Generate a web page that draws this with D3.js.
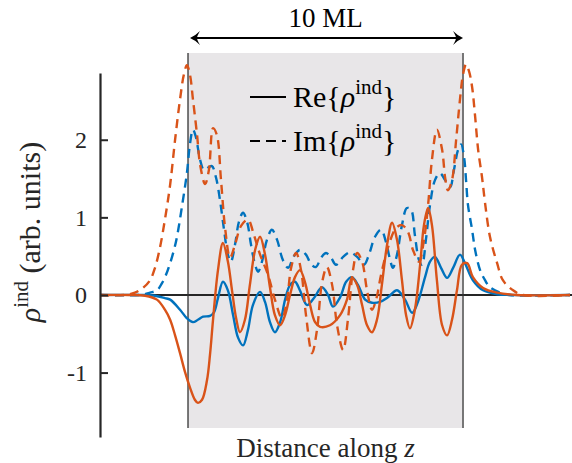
<!DOCTYPE html>
<html>
<head>
<meta charset="utf-8">
<script src="https://cdnjs.cloudflare.com/ajax/libs/d3/7.8.5/d3.min.js"></script>
<style>
  body { margin: 0; background: #fff; }
  svg { display: block; }
  svg text { font-family: 'Liberation Serif', 'Times New Roman', serif; }
</style>
</head>
<body>
<div class="canvas"></div>
<script>
// Induced density along z, pairs of [z in ML, value in arb. units]
const reBlue = [[-3.2,0],[-1.75,0],[-1.2,-0.01],[-0.84,-0.04],[-0.65,-0.06],[-0.29,-0.19],[-0.04,-0.3],[0.18,-0.35],[0.36,-0.32],[0.55,-0.28],[0.8,-0.27],[0.95,-0.22],[1.09,-0.04],[1.27,0.17],[1.45,0.06],[1.64,-0.26],[1.82,-0.55],[2.0,-0.65],[2.18,-0.45],[2.36,-0.13],[2.62,0.04],[2.8,-0.09],[2.98,-0.35],[3.16,-0.48],[3.35,-0.35],[3.53,-0.06],[3.71,0.13],[3.89,0.17],[4.07,0.06],[4.33,-0.13],[4.58,-0.04],[4.87,0.1],[5.09,0],[5.27,-0.15],[5.53,-0.03],[5.75,0.17],[5.96,0.23],[6.18,0.13],[6.44,-0.06],[6.69,-0.1],[6.98,-0.09],[7.27,-0.03],[7.6,0.06],[7.89,-0.06],[8.15,-0.23],[8.36,-0.09],[8.62,0.23],[8.8,0.43],[8.98,0.49],[9.2,0.35],[9.42,0.22],[9.64,0.35],[9.89,0.52],[10.07,0.41],[10.36,0.19],[10.73,0.06],[11.24,0.01],[11.71,0],[13.89,0]]

const imBlue = [[-3.2,0],[-1.75,0],[-1.38,0.03],[-1.13,0.06],[-0.95,0.15],[-0.8,0.26],[-0.65,0.41],[-0.51,0.58],[-0.4,0.75],[-0.22,1.14],[-0.04,1.57],[0.07,1.94],[0.18,2.13],[0.29,2.03],[0.44,1.74],[0.58,1.61],[0.73,1.64],[0.87,1.66],[1.02,1.51],[1.16,1.23],[1.31,0.84],[1.45,0.52],[1.56,0.43],[1.71,0.65],[1.85,0.94],[2.0,1.06],[2.15,0.94],[2.29,0.65],[2.44,0.39],[2.55,0.3],[2.69,0.43],[2.87,0.71],[3.05,0.84],[3.24,0.71],[3.45,0.45],[3.64,0.35],[3.85,0.5],[4.07,0.58],[4.29,0.52],[4.47,0.4],[4.65,0.36],[4.84,0.48],[5.02,0.54],[5.2,0.48],[5.38,0.39],[5.64,0.49],[5.89,0.55],[6.15,0.49],[6.4,0.39],[6.58,0.52],[6.8,0.75],[7.02,0.84],[7.2,0.68],[7.35,0.45],[7.45,0.35],[7.6,0.52],[7.78,0.9],[7.96,1.12],[8.11,1.1],[8.25,0.77],[8.4,0.45],[8.51,0.39],[8.65,0.71],[8.8,1.16],[8.98,1.48],[9.16,1.57],[9.35,1.48],[9.53,1.39],[9.67,1.61],[9.82,1.87],[9.93,1.94],[10.04,1.77],[10.11,1.48],[10.18,1.16],[10.33,0.84],[10.44,0.58],[10.62,0.32],[10.8,0.19],[10.98,0.1],[11.35,0.03],[11.71,0],[13.89,0]]

const reRed = [[-3.2,0],[-2.11,0],[-1.56,-0.01],[-1.13,-0.06],[-0.84,-0.19],[-0.65,-0.32],[-0.47,-0.52],[-0.29,-0.75],[-0.11,-0.99],[0.07,-1.19],[0.25,-1.35],[0.36,-1.39],[0.51,-1.35],[0.69,-1.1],[0.8,-0.77],[0.91,-0.32],[1.09,0.32],[1.27,0.67],[1.45,0.43],[1.6,0.06],[1.75,-0.3],[1.89,-0.48],[2.07,-0.32],[2.25,0.13],[2.44,0.58],[2.62,0.75],[2.8,0.52],[2.98,0.1],[3.16,-0.26],[3.35,-0.39],[3.53,-0.26],[3.71,0],[3.89,0.23],[4.07,0.32],[4.25,0.17],[4.44,-0.13],[4.62,-0.35],[4.8,-0.41],[5.16,-0.39],[5.53,-0.26],[5.78,-0.06],[5.96,0.22],[6.15,0.13],[6.33,-0.13],[6.51,-0.39],[6.69,-0.48],[6.87,-0.32],[7.05,0.13],[7.24,0.65],[7.42,0.93],[7.6,0.71],[7.78,0.19],[7.93,-0.26],[8.07,-0.43],[8.25,-0.19],[8.44,0.39],[8.58,0.9],[8.73,1.12],[8.87,0.9],[9.05,0.19],[9.24,-0.39],[9.42,-0.52],[9.6,-0.32],[9.78,0.06],[9.96,0.39],[10.15,0.41],[10.36,0.23],[10.73,0.09],[11.24,0.03],[11.96,0],[13.89,0]]

const imRed = [[-3.2,0],[-2.29,0],[-1.93,0.03],[-1.64,0.09],[-1.38,0.19],[-1.2,0.35],[-1.02,0.61],[-0.84,0.97],[-0.65,1.42],[-0.47,2.0],[-0.29,2.52],[-0.15,2.84],[-0.04,2.96],[0.07,2.84],[0.18,2.52],[0.33,2.06],[0.44,1.68],[0.62,1.43],[0.76,1.61],[0.91,2.15],[1.05,2.06],[1.2,1.48],[1.35,0.86],[1.53,0.48],[1.71,0.65],[1.93,0.89],[2.18,0.97],[2.4,0.77],[2.62,0.52],[2.91,0.26],[3.16,-0.06],[3.42,-0.3],[3.6,-0.06],[3.75,0.35],[3.93,0.54],[4.11,0.32],[4.29,-0.26],[4.51,-0.75],[4.69,-0.45],[4.87,0.15],[5.05,0.36],[5.24,0.13],[5.42,-0.39],[5.64,-0.71],[5.82,-0.3],[6.0,0.32],[6.15,0.54],[6.33,0.43],[6.51,0.06],[6.69,-0.19],[6.84,-0.06],[7.02,0.26],[7.27,0.61],[7.56,0.86],[7.78,0.9],[8.0,0.81],[8.18,0.58],[8.4,0.43],[8.58,0.71],[8.73,1.16],[8.87,1.74],[9.05,2.13],[9.24,1.87],[9.35,1.51],[9.45,1.35],[9.6,1.48],[9.75,2.0],[9.89,2.52],[10.0,2.84],[10.11,2.97],[10.22,2.88],[10.33,2.68],[10.44,2.3],[10.55,1.87],[10.69,1.52],[10.8,1.19],[10.98,0.75],[11.24,0.41],[11.45,0.19],[11.82,0.06],[12.18,0],[13.89,0]]

const yTicks = [-1, 0, 1, 2]
const slab = [0, 10]
const slabLabel = '10 ML'
const legendNames = ['Re', 'Im']

const blue = '#0072BD'
const red = '#D95319'
const ink = '#262626'

// Select SVG container
const width = 572
const height = 463
const svg = d3.select('.canvas')
  .append('svg')
  .attr('width', width)
  .attr('height', height)

// Scales
const x = d3.scaleLinear()
  .domain([-3.2, 13.89])
  .range([100, 570])

const y = d3.scaleLinear()
  .domain([-1.83, 2.86])
  .range([437, 73])

// shaded slab
svg.append('rect')
  .attr('x', x(slab[0]))
  .attr('y', 53)
  .attr('width', x(slab[1]) - x(slab[0]))
  .attr('height', 428 - 53)
  .attr('fill', '#e8e6e8')

// zero line
svg.append('line')
  .attr('x1', x.range()[0])
  .attr('x2', width)
  .attr('y1', y(0))
  .attr('y2', y(0))
  .attr('stroke', ink)
  .attr('stroke-width', 2)

// slab edges
svg.selectAll('.edge')
  .data(slab)
  .enter()
  .append('line')
  .attr('class', 'edge')
  .attr('x1', d => x(d))
  .attr('x2', d => x(d))
  .attr('y1', 53)
  .attr('y2', 428)
  .attr('stroke', '#333')
  .attr('stroke-width', 1.3)

// curves
const line = d3.line()
  .x(d => x(d[0]))
  .y(d => y(d[1]))
  .curve(d3.curveCatmullRom.alpha(0.5))

const series = [
  { data: reBlue, color: blue, dash: null },
  { data: imBlue, color: blue, dash: '9,6' },
  { data: reRed, color: red, dash: null },
  { data: imRed, color: red, dash: '9,6' }
]

svg.selectAll('.curve')
  .data(series)
  .enter()
  .append('path')
  .attr('class', 'curve')
  .attr('d', d => line(d.data))
  .attr('fill', 'none')
  .attr('stroke', d => d.color)
  .attr('stroke-width', 2.4)
  .attr('stroke-dasharray', d => d.dash)

// y axis
const yAxis = d3.axisLeft(y)
  .tickValues(yTicks)
  .tickFormat(d => String(d))
  .tickSizeInner(-8)
  .tickSizeOuter(0)
  .tickPadding(13)

const yAxisGroup = svg.append('g')
  .attr('transform', `translate(${x.range()[0]}, 0)`)
  .call(yAxis)

yAxisGroup.select('.domain')
  .attr('stroke', ink)
  .attr('stroke-width', 2.2)
yAxisGroup.selectAll('line')
  .attr('stroke', ink)
  .attr('stroke-width', 2)
yAxisGroup.selectAll('text')
  .attr('fill', ink)
  .attr('font-size', 24)

// y label
const yLabel = svg.append('text')
  .attr('transform', 'translate(40, 232) rotate(-90)')
  .attr('text-anchor', 'middle')
  .attr('font-size', 30)
  .attr('fill', ink)
yLabel.append('tspan').attr('font-style', 'italic').text('ρ')
yLabel.append('tspan').attr('font-size', 21).attr('dy', -12).text('ind')
yLabel.append('tspan').attr('dy', 12).text(' (arb. units)')

// x label
const xLabel = svg.append('text')
  .attr('x', (x(slab[0]) + x(slab[1])) / 2)
  .attr('y', 457)
  .attr('text-anchor', 'middle')
  .attr('font-size', 27)
  .attr('fill', ink)
xLabel.append('tspan').text('Distance along ')
xLabel.append('tspan').attr('font-style', 'italic').text('z')

// width arrow
const arrowY = 38
const head = 'M0,0 Q-5,-2 -10,-7 Q-7,-2 -7,0 Q-7,2 -10,7 Q-5,2 0,0 Z'
svg.append('line')
  .attr('x1', x(slab[0]) + 4)
  .attr('x2', x(slab[1]) - 4)
  .attr('y1', arrowY)
  .attr('y2', arrowY)
  .attr('stroke', '#000')
  .attr('stroke-width', 2.2)
svg.append('path')
  .attr('d', head)
  .attr('transform', `translate(${x(slab[1])}, ${arrowY})`)
  .attr('fill', '#000')
svg.append('path')
  .attr('d', head)
  .attr('transform', `translate(${x(slab[0]) + 2}, ${arrowY}) scale(-1, 1)`)
  .attr('fill', '#000')

svg.append('text')
  .attr('x', (x(slab[0]) + x(slab[1])) / 2)
  .attr('y', 27)
  .attr('text-anchor', 'middle')
  .attr('font-size', 27)
  .attr('fill', '#000')
  .text(slabLabel)

// legend
const legend = svg.selectAll('.legend')
  .data(legendNames)
  .enter()
  .append('g')
  .attr('class', 'legend')
  .attr('transform', (d, i) => `translate(250, ${97 + i * 44})`)

legend.append('line')
  .attr('x1', 0)
  .attr('x2', 36)
  .attr('stroke', '#000')
  .attr('stroke-width', 2.2)
  .attr('stroke-dasharray', (d, i) => i ? '10,6' : null)

const legendText = legend.append('text')
  .attr('x', 43)
  .attr('y', 10)
  .attr('font-size', 30)
  .attr('fill', '#000')
legendText.append('tspan').text(d => d + '{')
legendText.append('tspan').attr('font-style', 'italic').text('ρ')
legendText.append('tspan').attr('font-size', 21).attr('dy', -13).text('ind')
legendText.append('tspan').attr('dy', 13).text('}')
</script>
</body>
</html>
